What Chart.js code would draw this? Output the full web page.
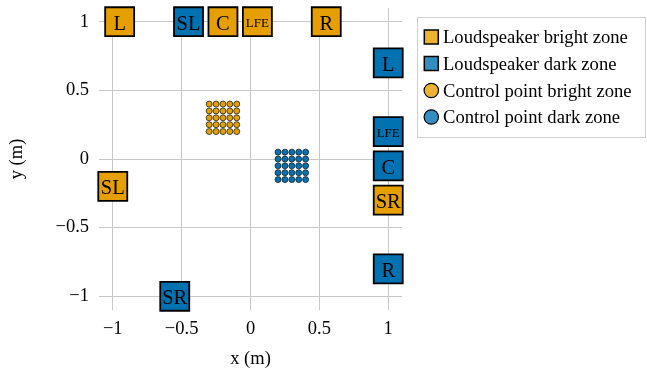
<!DOCTYPE html>
<html>
<head>
<meta charset="utf-8">
<script src="https://cdn.jsdelivr.net/npm/chart.js@4/dist/chart.umd.min.js"></script>
<style>
  html, body { margin: 0; padding: 0; background: #fff; }
  #c { display: block; }
</style>
</head>
<body>
<canvas id="c" width="647" height="370"></canvas>
<script>
// ---- data ----
const seriesLabels = ['Loudspeaker bright zone', 'Loudspeaker dark zone', 'Control point bright zone', 'Control point dark zone'];

const brightSpkNames = ['L', 'C', 'LFE', 'R', 'SL', 'SR'];
const brightSpkX     = [-0.95, -0.2, 0.05, 0.55, -1.0, 1.0];
const brightSpkY     = [1.0, 1.0, 1.0, 1.0, -0.2, -0.3];

const darkSpkNames = ['SL', 'L', 'LFE', 'C', 'R', 'SR'];
const darkSpkX     = [-0.45, 1.0, 1.0, 1.0, 1.0, -0.55];
const darkSpkY     = [1.0, 0.7, 0.2, -0.05, -0.8, -1.0];

const brightCtrlX = [-0.3, -0.25, -0.2, -0.15, -0.1];
const brightCtrlY = [0.2, 0.25, 0.3, 0.35, 0.4];
const darkCtrlX   = [0.2, 0.25, 0.3, 0.35, 0.4];
const darkCtrlY   = [-0.15, -0.1, -0.05, 0.0, 0.05];

const xTicks = [-1, -0.5, 0, 0.5, 1];
const yTicks = [-1, -0.5, 0, 0.5, 1];

// ---- styles ----
const ORANGE = '#E69F00';
const BLUE = '#0072B2';
const ORANGE_LEG = 'rgb(235,178,51)';
const BLUE_LEG = 'rgb(51,142,193)';
const FONT = "'Liberation Serif', 'DejaVu Serif', serif";

const pts = (xs, ys) => xs.map((x, i) => ({ x: x, y: ys[i] }));
const grid = (xs, ys) => { const out = []; ys.forEach(y => xs.forEach(x => out.push({ x: x, y: y }))); return out; };
const fmt = v => (v < 0 ? '\u2212' + Math.abs(v) : String(v));

const spkNames = [brightSpkNames, darkSpkNames];

const labelPlugin = {
  id: 'spkLabels',
  afterDatasetsDraw(chart) {
    const ctx = chart.ctx;
    ctx.save();
    ctx.fillStyle = '#000';
    ctx.textAlign = 'center';
    ctx.textBaseline = 'alphabetic';
    [0, 1].forEach(di => {
      const meta = chart.getDatasetMeta(di);
      meta.data.forEach((el, i) => {
        const name = spkNames[di][i];
        const size = name.length > 2 ? 13 : 20.5;
        ctx.font = size + 'px ' + FONT;
        ctx.fillText(name, el.x, el.y + size * 0.662 / 2 + 1);
      });
    });
    ctx.restore();
  }
};

const legendPlugin = {
  id: 'boxLegend',
  afterDraw(chart) {
    const ctx = chart.ctx;
    ctx.save();
    const bx = 417.5, by = 17.5, bw = 228, bh = 120;
    ctx.strokeStyle = '#cfcfcf';
    ctx.lineWidth = 1;
    ctx.strokeRect(bx, by, bw, bh);
    const legFill = [ORANGE_LEG, BLUE_LEG, ORANGE_LEG, BLUE_LEG];
    const ys = [37, 63.5, 90.5, 117];
    ctx.font = '18.6px ' + FONT;
    ctx.textAlign = 'left';
    ctx.textBaseline = 'alphabetic';
    chart.data.datasets.forEach((ds, i) => {
      const cx = 431.3, cy = ys[i];
      ctx.fillStyle = legFill[i];
      ctx.strokeStyle = '#000';
      ctx.lineWidth = 1.5;
      if (ds.pointStyle === 'rect') {
        ctx.fillRect(cx - 7, cy - 7, 14, 14);
        ctx.strokeRect(cx - 7, cy - 7, 14, 14);
      } else {
        ctx.beginPath();
        ctx.arc(cx, cy, 7.2, 0, Math.PI * 2);
        ctx.fill();
        ctx.lineWidth = 1.2;
        ctx.stroke();
      }
      ctx.fillStyle = '#000';
      ctx.fillText(ds.label, 443, cy + 6);
    });
    ctx.restore();
  }
};

new Chart(document.getElementById('c'), {
  type: 'scatter',
  data: {
    datasets: [
      { label: seriesLabels[0], data: pts(brightSpkX, brightSpkY), pointStyle: 'rect', pointRadius: 20.5, backgroundColor: ORANGE, borderColor: '#000', borderWidth: 1.8, order: 1, clip: false },
      { label: seriesLabels[1], data: pts(darkSpkX, darkSpkY), pointStyle: 'rect', pointRadius: 20.5, backgroundColor: BLUE, borderColor: '#000', borderWidth: 1.8, order: 1, clip: false },
      { label: seriesLabels[2], data: grid(brightCtrlX, brightCtrlY), pointStyle: 'circle', pointRadius: 3, backgroundColor: ORANGE, borderColor: '#222', borderWidth: 0.8, order: 2, clip: false },
      { label: seriesLabels[3], data: grid(darkCtrlX, darkCtrlY), pointStyle: 'circle', pointRadius: 3, backgroundColor: BLUE, borderColor: '#222', borderWidth: 0.8, order: 2, clip: false }
    ]
  },
  options: {
    responsive: false,
    animation: false,
    devicePixelRatio: 1,
    layout: { autoPadding: false, padding: { left: 0, top: 8, right: 245, bottom: 0 } },
    plugins: { legend: { display: false }, tooltip: { enabled: false } },
    scales: {
      x: {
        type: 'linear', min: -1.1, max: 1.1,
        afterBuildTicks: s => { s.ticks = xTicks.map(v => ({ value: v })); },
        afterFit: s => { s.height = 60; s.paddingLeft = 0; s.paddingRight = 0; },
        grid: { color: '#c8c8c8', lineWidth: 1, drawTicks: false },
        border: { display: false },
        ticks: { color: '#000', font: { family: FONT, size: 18.5 }, padding: 8, callback: v => fmt(v), maxRotation: 0 },
        title: { display: true, text: 'x (m)', color: '#000', font: { family: FONT, size: 18.5 }, padding: { top: 0, bottom: 0 } }
      },
      y: {
        type: 'linear', min: -1.1, max: 1.1,
        afterBuildTicks: s => { s.ticks = yTicks.map(v => ({ value: v })); },
        afterFit: s => { s.width = 99; s.paddingTop = 0; s.paddingBottom = 0; },
        grid: { color: '#c8c8c8', lineWidth: 1, drawTicks: false },
        border: { display: false },
        ticks: { color: '#000', font: { family: FONT, size: 18.5 }, padding: 10, callback: v => fmt(v) },
        title: { display: true, text: 'y (m)', color: '#000', font: { family: FONT, size: 18.5 }, padding: { top: 6, bottom: 0 } }
      }
    }
  },
  plugins: [labelPlugin, legendPlugin]
});
</script>
</body>
</html>
